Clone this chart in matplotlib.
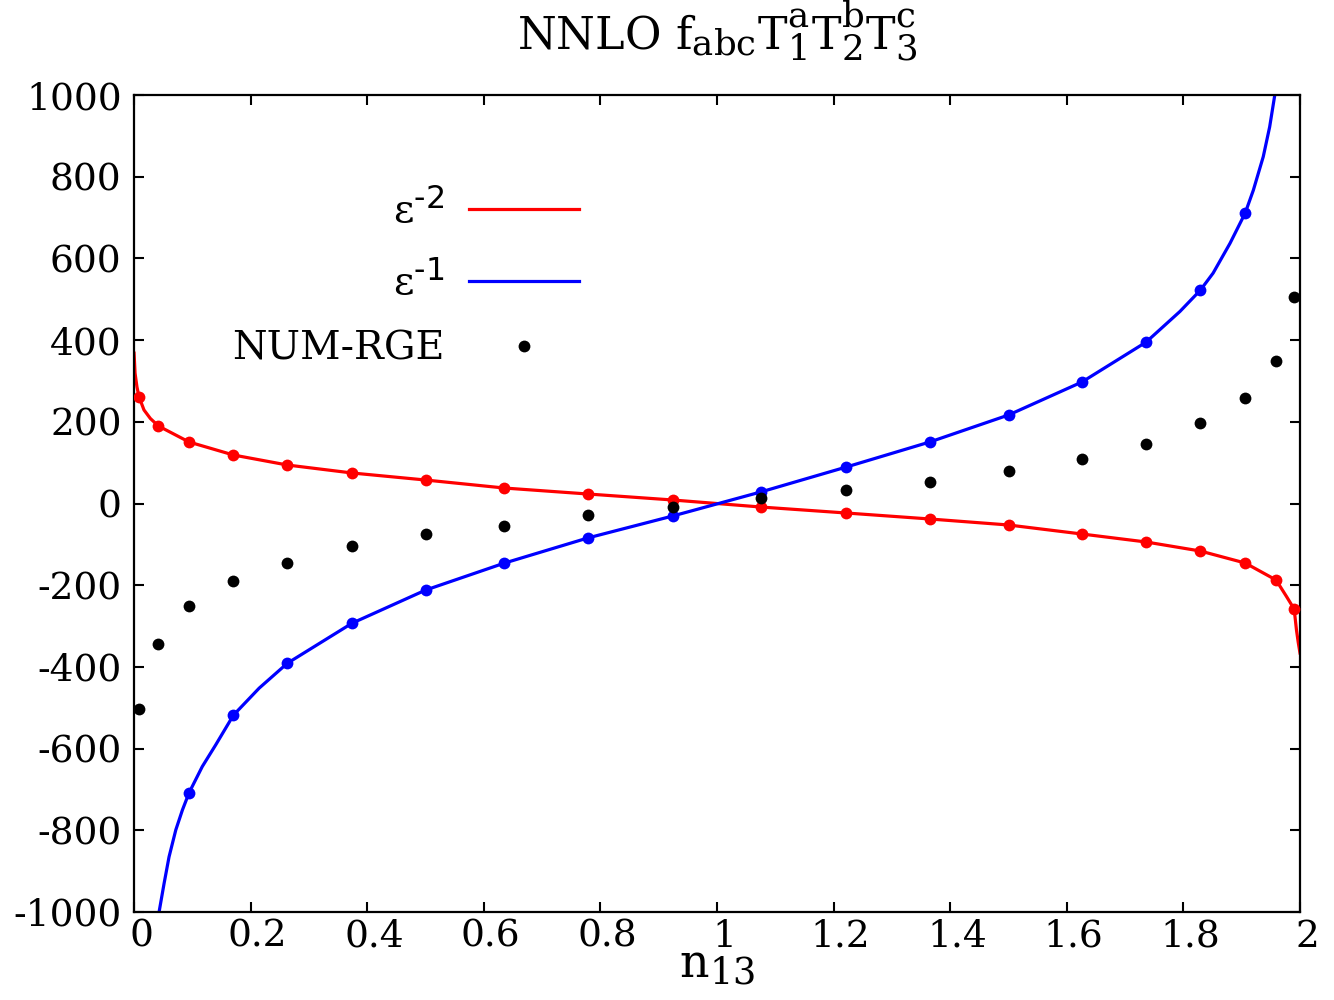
import matplotlib
matplotlib.use('Agg')
import matplotlib.pyplot as plt
import matplotlib.transforms as mtransforms
try:
    import matplotlib._mathtext as _mt
    _mt.SHRINK_FACTOR = 0.8
except Exception:
    pass

# ---- data ----
n13 = [0.0086, 0.0418, 0.0944, 0.1705, 0.263, 0.374, 0.500, 0.635, 0.778, 0.924,
       1.075, 1.222, 1.365, 1.500, 1.626, 1.736, 1.829, 1.906, 1.959, 1.990]

eps2_pts = [260.7, 189.7, 150.5, 118.7, 94.2, 74.7, 57.5, 37.9, 23.3, 8.6,
            -8.6, -23.3, -37.9, -52.6, -74.7, -94.2, -116.3, -145.7, -187.3, -258.3]

# blue points visible on the chart (n13[2] .. n13[17])
eps1_x = [0.0944, 0.1705, 0.263, 0.374, 0.500, 0.635, 0.778, 0.924,
          1.075, 1.222, 1.365, 1.500, 1.626, 1.736, 1.829, 1.906]
eps1_pts = [-708, -518, -391, -293, -212, -146, -84.5, -30.6,
            28.2, 89.4, 150.6, 216.6, 297.4, 395, 522, 711]

num_rge = [-503, -344, -251, -190, -146, -104, -75, -55, -28, -8.6,
           13.5, 33, 52.6, 79.6, 109, 146, 197, 258, 349, 505]

# curves
eps2_curve_x = [0.0, 0.0017, 0.005, 0.0086, 0.017, 0.028, 0.0418, 0.0944, 0.1705, 0.263, 0.374, 0.500,
                0.635, 0.778, 0.924, 1.075, 1.222, 1.365, 1.500, 1.626, 1.736, 1.829,
                1.906, 1.959, 1.977, 1.990, 1.994, 1.997, 2.0]
eps2_curve_y = [368, 319, 285, 260.7, 229, 208, 189.7, 150.5, 118.7, 94.2, 74.7, 57.5,
                37.9, 23.3, 8.6, -8.6, -23.3, -37.9, -52.6, -74.7, -94.2, -116.3,
                -145.7, -187.3, -228, -258.3, -310, -340, -366]

eps1_curve_x = [0.0429, 0.0515, 0.060, 0.0716, 0.083, 0.0944, 0.117, 0.140, 0.1705, 0.2146,
                0.263, 0.374, 0.500, 0.635, 0.778, 0.924, 1.075, 1.222, 1.365, 1.500,
                1.626, 1.736, 1.794, 1.829, 1.851, 1.880, 1.906, 1.920, 1.937, 1.948, 1.957]
eps1_curve_y = [-1000, -930, -865, -799, -750, -708, -644, -591, -518, -452,
                -391, -293, -212, -146, -84.5, -30.6, 28.2, 89.4, 150.6, 216.6,
                297.4, 395, 470, 522, 564, 637, 711, 767, 849, 922, 1002]

xticks = [0, 0.2, 0.4, 0.6, 0.8, 1, 1.2, 1.4, 1.6, 1.8, 2]
xticklabels = ['0', '0.2', '0.4', '0.6', '0.8', '1', '1.2', '1.4', '1.6', '1.8', '2']
yticks = [-1000, -800, -600, -400, -200, 0, 200, 400, 600, 800, 1000]

plt.rcParams['font.family'] = ['DejaVu Serif']
plt.rcParams['mathtext.default'] = 'regular'
plt.rcParams['axes.unicode_minus'] = False

fig = plt.figure(figsize=(13.34, 10), dpi=100)
ax = fig.add_axes([0.1005, 0.088, 0.874, 0.817])

ax.plot(eps2_curve_x, eps2_curve_y, color='#ff0000', lw=2.3, label=r'ε$^{\text{-2}}$', zorder=2)
ax.plot(eps1_curve_x, eps1_curve_y, color='#0000ff', lw=2.3, label=r'ε$^{\text{-1}}$', zorder=2)
ax.plot(n13, eps2_pts, 'o', color='#ff0000', ms=8.5, mec='none', zorder=3)
ax.plot(eps1_x, eps1_pts, 'o', color='#0000ff', ms=8.5, mec='none', zorder=3)
ax.plot(n13, num_rge, 'o', color='black', ms=8.5, mec='none', label='NUM-RGE', zorder=4)

ax.set_xlim(0, 2)
ax.set_ylim(-1000, 1000)
ax.set_xticks(xticks)
ax.set_xticklabels(xticklabels)
ax.set_yticks(yticks)
ax.tick_params(direction='in', length=7, width=1.5, top=True, right=True,
               labelsize=27)
ax.tick_params(axis='y', pad=9)
ax.tick_params(axis='x', pad=5)
for s in ax.spines.values():
    s.set_linewidth(1.6)

off = mtransforms.ScaledTranslation(5/72, 0, fig.dpi_scale_trans)
for lbl in ax.get_xticklabels():
    lbl.set_transform(lbl.get_transform() + off)

ax.set_xlabel(r'n$_{13}$', fontsize=33, labelpad=-9)
ax.set_title(r'NNLO f$_{abc}$T$_1^a$T$_2^b$T$_3^c$', fontsize=32, pad=33)

leg = ax.legend(loc='center', bbox_to_anchor=(0.304, 0.7225), bbox_transform=fig.transFigure,
                frameon=False, markerfirst=False, fontsize=28.5, handlelength=2.78,
                labelspacing=0.72, handletextpad=0.6, numpoints=1)

fig.savefig('out.png', dpi=100)
